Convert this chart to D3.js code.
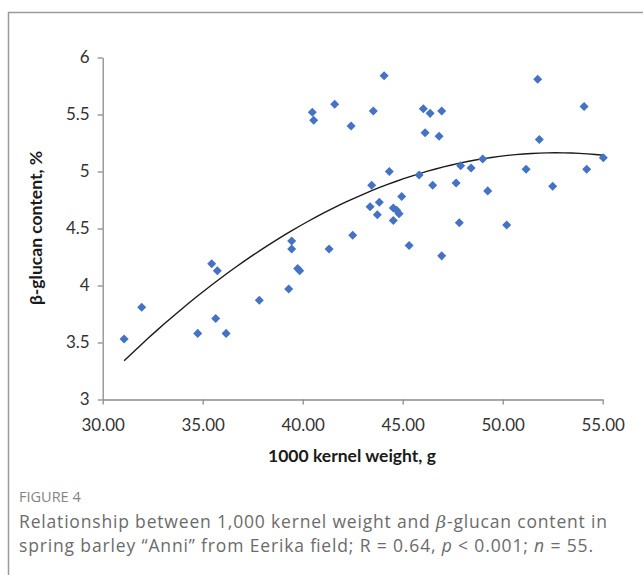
<!DOCTYPE html>
<html>
<head>
<meta charset="utf-8">
<script src="https://cdn.jsdelivr.net/npm/d3@7"></script>
<style>
  body { margin: 0; background: #fff; }
  svg text { font-family: Lato, "Open Sans", sans-serif; }
  .cap { font-family: "Open Sans", sans-serif; fill: #6b6b6b; }
</style>
</head>
<body>
<div id="chart"></div>
<script>
// data
var kernelWeight = [
  31.07, 31.95, 34.75, 35.45, 35.65, 35.73, 36.17, 37.83,
  39.30, 39.45, 39.45, 39.75, 39.85, 40.48, 40.55, 41.32, 41.60,
  42.42, 42.50, 43.37, 43.45, 43.53, 43.73, 43.83, 44.07, 44.33,
  44.53, 44.53, 44.70, 44.82, 44.95, 45.32, 45.82, 46.03, 46.12,
  46.37, 46.50, 46.82, 46.95, 46.95, 47.67, 47.83, 47.90, 48.42,
  49.00, 49.25, 50.20, 51.17, 51.75, 51.83, 52.50, 54.07, 54.20, 55.03
];
var glucan = [
  3.53, 3.81, 3.58, 4.19, 3.71, 4.13, 3.58, 3.87,
  3.97, 4.39, 4.32, 4.15, 4.13, 5.52, 5.45, 4.32, 5.59,
  5.40, 4.44, 4.69, 4.88, 5.53, 4.62, 4.73, 5.84, 5.00,
  4.68, 4.57, 4.66, 4.63, 4.78, 4.35, 4.97, 5.55, 5.34,
  5.51, 4.88, 5.31, 5.53, 4.26, 4.90, 4.55, 5.05, 5.03,
  5.11, 4.83, 4.53, 5.02, 5.81, 5.28, 4.87, 5.57, 5.02, 5.12
];
var xTicks = [30, 35, 40, 45, 50, 55];
var yTicks = [3, 3.5, 4, 4.5, 5, 5.5, 6];

var width = 643,
    height = 575;
var margin = {left: 102.7, right: 40.3, top: 57.5, bottom: 175.5};

var svg = d3.select("#chart").append("svg")
    .attr("width", width)
    .attr("height", height);

// outer frame (runs off the right and bottom edges)
svg.append("rect")
    .attr("x", 8.5).attr("y", 12.5)
    .attr("width", 700).attr("height", 700)
    .style("fill", "none")
    .style("stroke", "#9a9a9a")
    .style("stroke-width", 1.5);

var x = d3.scaleLinear().domain([30, 55]).range([margin.left, width - margin.right]);
var y = d3.scaleLinear().domain([3, 6]).range([height - margin.bottom, margin.top]);

// axes
var xAxis = d3.axisBottom(x).tickValues(xTicks).tickSize(5).tickSizeOuter(0)
    .tickFormat(d3.format(".2f"));
var yAxis = d3.axisLeft(y).tickValues(yTicks).tickSize(5).tickSizeOuter(0)
    .tickFormat(function(d){ return d3.format("")(d); });

var gx = svg.append("g")
    .attr("transform", "translate(0," + y(3) + ")")
    .call(xAxis);
var gy = svg.append("g")
    .attr("transform", "translate(" + x(30) + ",0)")
    .call(yAxis);

[gx, gy].forEach(function(g){
    g.select(".domain").style("stroke", "#8c8c8c").style("stroke-width", 1.3);
    g.selectAll(".tick line").style("stroke", "#8c8c8c").style("stroke-width", 1.3);
    g.selectAll(".tick text").style("font-size", "17px").style("fill", "#333");
});
gx.selectAll(".tick text").attr("y", 19);
gy.selectAll(".tick text").attr("x", -13);

// quadratic least-squares trend, as the spreadsheet does
function quadFit(xs, ys){
    var s = [0,0,0,0,0], t = [0,0,0];
    for(var i = 0; i < xs.length; i++){
        var p = 1;
        for(var k = 0; k < 5; k++){ s[k] += p; if(k < 3) t[k] += p * ys[i]; p *= xs[i]; }
    }
    var A = [[s[0], s[1], s[2], t[0]], [s[1], s[2], s[3], t[1]], [s[2], s[3], s[4], t[2]]];
    for(var c = 0; c < 3; c++){
        for(var r = c + 1; r < 3; r++){
            var f = A[r][c] / A[c][c];
            for(var m = c; m < 4; m++) A[r][m] -= f * A[c][m];
        }
    }
    var b = [0,0,0];
    for(var r2 = 2; r2 >= 0; r2--){
        var v = A[r2][3];
        for(var m2 = r2 + 1; m2 < 3; m2++) v -= A[r2][m2] * b[m2];
        b[r2] = v / A[r2][r2];
    }
    return b;
}
var coef = quadFit(kernelWeight, glucan);
var xMin = d3.min(kernelWeight), xMax = d3.max(kernelWeight);
var trend = d3.range(0, 61).map(function(i){
    var xv = xMin + (xMax - xMin) * i / 60;
    return [xv, coef[0] + coef[1] * xv + coef[2] * xv * xv];
});

svg.append("path")
    .datum(trend)
    .attr("d", d3.line().x(function(d){ return x(d[0]); }).y(function(d){ return y(d[1]); }))
    .style("fill", "none")
    .style("stroke", "#1a1a1a")
    .style("stroke-width", 1.4);

// points
var pts = kernelWeight.map(function(v, i){ return {x: v, y: glucan[i]}; });
svg.selectAll(".pt")
    .data(pts)
  .enter().append("path")
    .attr("class", "pt")
    .attr("d", d3.symbol().type(d3.symbolDiamond2).size(52))
    .attr("transform", function(d){ return "translate(" + x(d.x) + "," + y(d.y) + ")"; })
    .style("fill", "#4472c4");

// axis titles
svg.append("text")
    .attr("x", 352).attr("y", 462)
    .attr("text-anchor", "middle")
    .style("font-size", "17.5px").style("font-weight", "bold").style("fill", "#1a1a1a")
    .text("1000 kernel weight, g");
svg.append("text")
    .attr("transform", "translate(42,228) rotate(-90)")
    .attr("text-anchor", "middle")
    .style("font-size", "17.5px").style("font-weight", "bold").style("fill", "#1a1a1a")
    .text("β-glucan content, %");

// caption
svg.append("text").attr("class", "cap")
    .attr("x", 19).attr("y", 502)
    .style("font-size", "14.5px").style("fill", "#858585")
    .text("FIGURE 4");
var l1 = svg.append("text").attr("class", "cap")
    .attr("x", 19).attr("y", 528).style("font-size", "17.5px")
    .attr("textLength", 588).attr("lengthAdjust", "spacing");
l1.append("tspan").text("Relationship between 1,000 kernel weight and ");
l1.append("tspan").style("font-style", "italic").style("font-family", "DejaVu Serif").text("β");
l1.append("tspan").text("-glucan content in");
var l2 = svg.append("text").attr("class", "cap")
    .attr("x", 19).attr("y", 552).style("font-size", "17.5px")
    .attr("textLength", 574).attr("lengthAdjust", "spacing");
l2.append("tspan").text("spring barley “Anni” from Eerika field; R = 0.64, ");
l2.append("tspan").style("font-style", "italic").text("p");
l2.append("tspan").text(" < 0.001; ");
l2.append("tspan").style("font-style", "italic").text("n");
l2.append("tspan").text(" = 55.");
</script>
</body>
</html>
